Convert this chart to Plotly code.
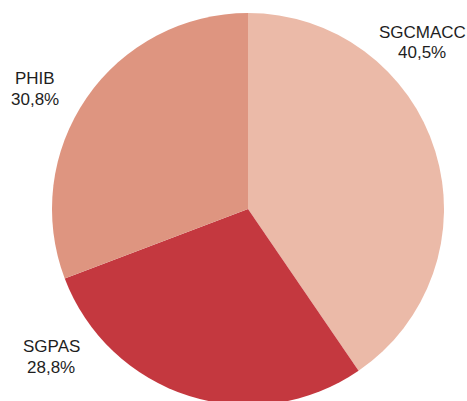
import plotly.graph_objects as go

labels = ["SGCMACC", "SGPAS", "PHIB"]
values = [40.5, 28.8, 30.8]
value_text = ["40,5%", "28,8%", "30,8%"]
colors = ["#EBBAA8", "#C4383F", "#DE9580"]

W, H = 467, 410
cx, cy, r = 248, 209, 196

fig = go.Figure(go.Pie(
    labels=labels, values=values, sort=False, direction="clockwise", rotation=0,
    marker=dict(colors=colors, line=dict(width=0)),
    textinfo="none", hoverinfo="label+percent",
    domain=dict(x=[(cx - r) / W, (cx + r) / W], y=[(H - cy - r) / H, (H - cy + r) / H]),
    showlegend=False,
))

# label anchor (x centre, y of first line, line gap) in pixels
label_pos = {"SGCMACC": (422, 32.5, 20.3), "SGPAS": (51, 346.7, 20.3), "PHIB": (35, 79, 20.5)}
font = dict(family="Liberation Sans, Arial", size=17, color="#1e1e1e")
for lab, vt in zip(labels, value_text):
    px, py, gap = label_pos[lab]
    for k, t in enumerate([lab, vt]):
        fig.add_annotation(x=px / W, y=1 - (py + k * gap) / H, xref="paper", yref="paper",
                           text=t, showarrow=False, xanchor="center", yanchor="middle",
                           font=font)

fig.update_layout(width=W, height=H, margin=dict(l=0, r=0, t=0, b=0),
                  paper_bgcolor="white", plot_bgcolor="white")
fig.write_html("out.html",
               config={"displayModeBar": False},
               post_script="document.body.style.margin='0px';"
                           "document.body.style.overflow='hidden';"
                           "document.documentElement.style.overflow='hidden';")
